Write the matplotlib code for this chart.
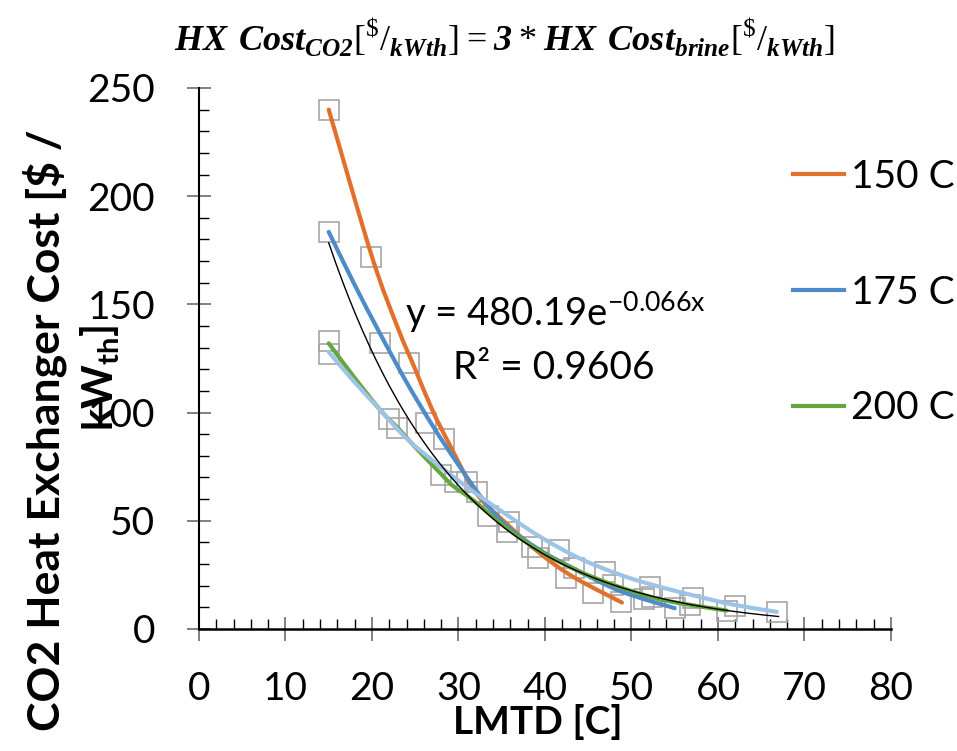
import matplotlib
matplotlib.use("Agg")
import matplotlib.pyplot as plt
from matplotlib.lines import Line2D
from matplotlib.path import Path
from matplotlib.patches import PathPatch
from matplotlib.ticker import MultipleLocator

plt.rcParams['font.family'] = ['Lato', 'DejaVu Sans']
plt.rcParams['mathtext.fontset'] = 'custom'
plt.rcParams['mathtext.rm'] = 'Liberation Serif'
plt.rcParams['mathtext.bfit'] = 'Liberation Serif:italic:bold'
plt.rcParams['mathtext.bf'] = 'Lato:bold'
plt.rcParams['mathtext.sf'] = 'Lato'

# smoothed curves per brine temperature (LMTD [C], cost [$/kWth])
lmtd_150 = [15, 20, 23, 25, 27, 29, 32, 35.6, 39.4, 43.3, 48.9]
cost_150 = [240, 172, 139, 120, 101, 85, 63, 48.5, 35, 24, 12.2]

lmtd_175 = [15, 18, 21, 24, 27, 29.8, 32.8, 35.6, 39.4, 43.3, 48.7, 55]
cost_175 = [183.5, 159, 136, 114, 94, 77, 60, 47.5, 36.5, 28, 17.5, 9.6]

lmtd_200 = [15, 18, 21, 23.2, 25, 27.9, 29.4, 31.7, 35.6, 39.4, 43.3, 46.4, 50.2, 54.1, 61]
cost_200 = [132, 116, 101, 92, 84, 72, 66, 59.5, 46.5, 36, 27.8, 22.6, 17.3, 13, 8.5]

lmtd_225 = [15, 18, 21, 24, 27.9, 31.7, 35.6, 39.4, 43.3, 46.4, 50.2, 54.1, 57.9, 61.8, 66.8]
cost_225 = [128, 114, 101, 88, 75, 63.5, 52.7, 42.7, 34, 28.5, 23, 18.6, 14.8, 11.2, 7.9]

# all data points (gray squares)
pts_x = [15, 15, 15, 15, 19.9, 20.9, 24.3, 22.0, 22.9, 26.2, 28.3, 28.0, 29.6, 31.0,
         32.1, 33.4, 35.8, 35.6, 38.5, 39.2, 41.6, 42.4, 43.3, 45.6, 46.9, 47.9,
         48.8, 51.4, 52.1, 52.4, 55.0, 57.1, 56.8, 61.0, 62.0, 66.8]
pts_y = [240, 183.5, 133, 127, 171.9, 132, 123, 97, 93, 95, 88, 71, 68, 68,
         63.3, 52, 49.4, 45, 38, 32.7, 36.3, 23.4, 28, 16.6, 26.5, 20.5,
         12.5, 13.8, 19.5, 15, 9.7, 14.2, 11.2, 8.2, 10.5, 7.7]

# exponential trendline shown on the chart
trend_a = 480.19
trend_b = -0.066
trend_x0, trend_x1 = 15, 67

series = [
    (lmtd_150, cost_150, '#E0702C', '150 C'),
    (lmtd_175, cost_175, '#4E8BC9', '175 C'),
    (lmtd_200, cost_200, '#66A640', '200 C'),
    (lmtd_225, cost_225, '#9DC3E6', None),
]


def smooth_path(xs, ys):
    # Catmull-Rom style bezier, like a spreadsheet "smoothed line"
    pts = list(zip(xs, ys))
    verts = [pts[0]]
    codes = [Path.MOVETO]
    n = len(pts)
    for i in range(n - 1):
        p0 = pts[i - 1] if i > 0 else pts[i]
        p1 = pts[i]
        p2 = pts[i + 1]
        p3 = pts[i + 2] if i + 2 < n else pts[i + 1]
        c1 = (p1[0] + (p2[0] - p0[0]) / 6, p1[1] + (p2[1] - p0[1]) / 6)
        c2 = (p2[0] - (p3[0] - p1[0]) / 6, p2[1] - (p3[1] - p1[1]) / 6)
        verts += [c1, c2, p2]
        codes += [Path.CURVE4] * 3
    return Path(verts, codes)


fig = plt.figure(figsize=(9.57, 7.51), dpi=100)
ax = fig.add_axes([0.2079, 0.1625, 0.7231, 0.7204])

ax.plot(pts_x, pts_y, 's', mfc='none', mec='#A6A6A6', ms=14, mew=1.2, zorder=2)

for xs, ys, color, label in series:
    ax.add_patch(PathPatch(smooth_path(xs, ys), fill=False, edgecolor=color,
                           lw=3, capstyle='round', zorder=3))

tx = [trend_x0 + i * (trend_x1 - trend_x0) / 200 for i in range(201)]
ty = [trend_a * 2.718281828459045 ** (trend_b * v) for v in tx]
ax.plot(tx, ty, color='black', lw=1, zorder=4)

ax.text(23.8, 146, r"y = 480.19e$^{\mathsf{-0.066x}}$", fontsize=27.5, va='center')
ax.text(29.4, 120.5, "R² = 0.9606", fontsize=28, va='center')

ax.set_xlim(0, 80)
ax.set_ylim(0, 250)
ax.xaxis.set_major_locator(MultipleLocator(10))
ax.xaxis.set_minor_locator(MultipleLocator(2))
ax.yaxis.set_major_locator(MultipleLocator(50))
ax.yaxis.set_minor_locator(MultipleLocator(10))

for s in ['top', 'right']:
    ax.spines[s].set_visible(False)
ax.spines['left'].set_linewidth(1.5)
ax.spines['bottom'].set_linewidth(1.8)

ax.tick_params(which='major', direction='inout', length=17, width=1.4,
               color='#808080', labelsize=28)
ax.tick_params(which='minor', direction='in', length=7.5, width=1, color='black')
ax.tick_params(axis='y', which='major', pad=23)
ax.tick_params(axis='x', which='major', pad=22)

ax.set_xlabel('LMTD [C]', fontsize=28, fontweight='bold')
ax.xaxis.set_label_coords(0.49, -0.172)
ax.xaxis.label.set_va('center')

ax.set_ylabel('CO2 Heat Exchanger Cost [$ /', fontsize=32, fontweight='bold')
ax.yaxis.set_label_coords(-0.2225, 0.368)
ax.yaxis.label.set_va('center')
ax.text(-0.143, 0.464, r"kW$_{\mathbf{th}}$]", transform=ax.transAxes, rotation=90,
        fontsize=30, fontweight='bold', ha='center', va='center')

handles = [Line2D([], [], color=c, lw=3) for _, _, c, l in series if l]
labels = [l for _, _, _, l in series if l]
ax.legend(handles, labels, loc='upper left', bbox_to_anchor=(793 / 957, 1 - 159 / 751),
          bbox_transform=fig.transFigure, frameon=False, fontsize=28,
          handlelength=1.3, handletextpad=0.2, labelspacing=2.05,
          borderpad=0, borderaxespad=0)

title = (r"$\mathbfit{HX\ Cost}_{\mathbfit{CO2}}[{}^{\$}/_{\mathbfit{kWth}}]"
         r" = \mathbfit{3} * \mathbfit{HX\ Cost}_{\mathbfit{brine}}[{}^{\$}/_{\mathbfit{kWth}}]$")
fig.text(505 / 957, 1 - 38 / 751, title, ha='center', va='center', fontsize=26)

fig.savefig('out.png', dpi=100)
